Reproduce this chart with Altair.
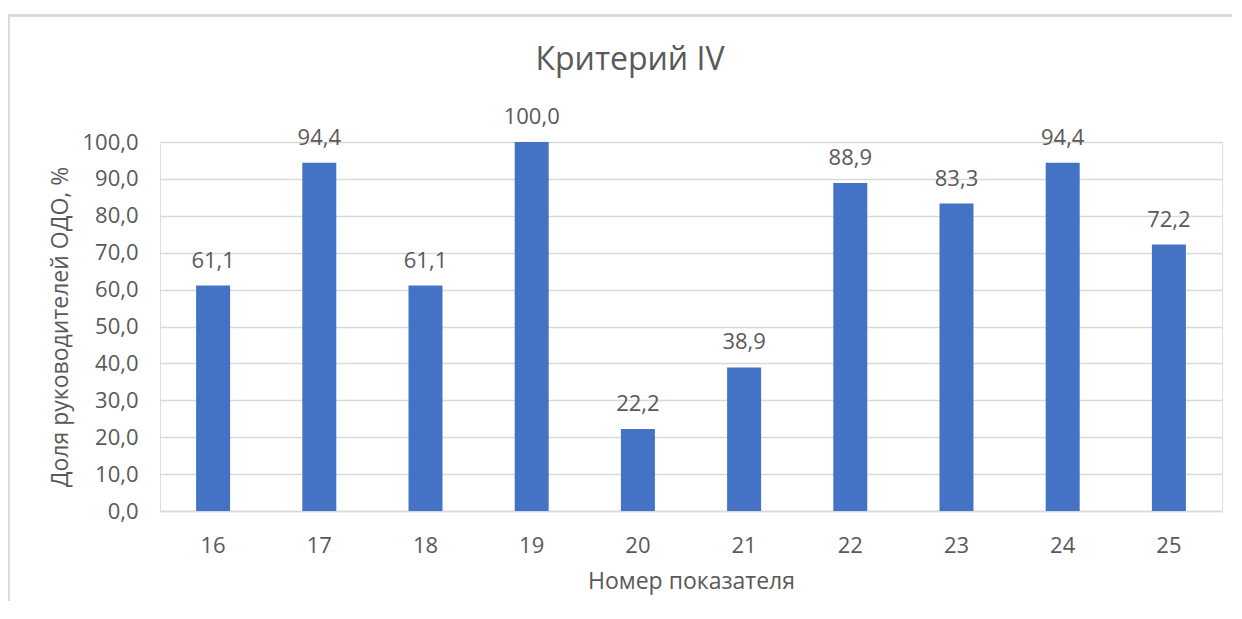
import altair as alt
import pandas as pd

categories = ["16", "17", "18", "19", "20", "21", "22", "23", "24", "25"]
values = [61.1, 94.4, 61.1, 100.0, 22.2, 38.9, 88.9, 83.3, 94.4, 72.2]
y_ticks = [0, 10, 20, 30, 40, 50, 60, 70, 80, 90, 100]
title_text = "Критерий IV"

df = pd.DataFrame({"cat": categories, "val": values})

FONT = "Open Sans"
GREY = "#595959"
GRID = "#d9d9d9"
BLUE = "#4472C4"

W, H = 1062, 369

x_enc = alt.X(
    "cat:N",
    sort=categories,
    scale=alt.Scale(paddingInner=0.68, paddingOuter=0.34),
    axis=alt.Axis(
        title="Номер показателя",
        labelAngle=0,
        labelFont=FONT, labelFontSize=22, labelColor=GREY,
        labelPadding=34, labelBaseline="middle",
        ticks=False, domainColor=GRID, domainWidth=1.5,
        titleFont=FONT, titleFontSize=23, titleColor=GREY, titleFontWeight="normal",
        titleX=W / 2, titleY=70, titleAlign="center", titleBaseline="middle",
    ),
)
y_enc = alt.Y(
    "val:Q",
    scale=alt.Scale(domain=[0, 100], nice=False),
    axis=alt.Axis(
        title="Доля руководителей ОДО, %",
        values=y_ticks,
        tickCount=20,
        labelOverlap=False,
        labelExpr="replace(format(datum.value, '.1f'), '.', ',')",
        labelFont=FONT, labelFontSize=22, labelColor=GREY, labelPadding=22,
        ticks=False, domain=False,
        gridColor=GRID, gridWidth=1.5,
        titleFont=FONT, titleFontSize=23, titleColor=GREY, titleFontWeight="normal",
        titleX=-100, titleY=H / 2, titleAngle=-90, titleAlign="center", titleBaseline="middle",
    ),
)

bars = alt.Chart(df).mark_bar(color=BLUE).encode(x=x_enc, y=y_enc)

labels = alt.Chart(df).transform_calculate(
    lab="replace(format(datum.val, '.1f'), '.', ',')"
).mark_text(
    font=FONT, fontSize=22, color=GREY, baseline="alphabetic", dy=-18
).encode(x=x_enc, y=y_enc, text="lab:N")

title = alt.Chart(pd.DataFrame({"t": [title_text]})).mark_text(
    font=FONT, fontSize=32, color=GREY, baseline="alphabetic", align="center"
).encode(x=alt.value(470), y=alt.value(-72), text="t:N")

border_left = alt.Chart(df).mark_rule(color=GRID, strokeWidth=1.5).encode(
    x=alt.value(-151.5), y=alt.value(-126.5), y2=alt.value(500)
)
border_top = alt.Chart(df).mark_rule(color=GRID, strokeWidth=1.5).encode(
    x=alt.value(-151.5), x2=alt.value(1200), y=alt.value(-126.5)
)

chart = alt.layer(border_left, border_top, bars, labels, title).properties(
    width=W, height=H,
    autosize=alt.AutoSizeParams(type="none"),
    padding={"left": 152, "top": 134, "right": 10, "bottom": 90},
).configure_view(stroke=None).configure(background="white")

chart.save("out.html", embed_options={"renderer": "svg", "actions": False})
